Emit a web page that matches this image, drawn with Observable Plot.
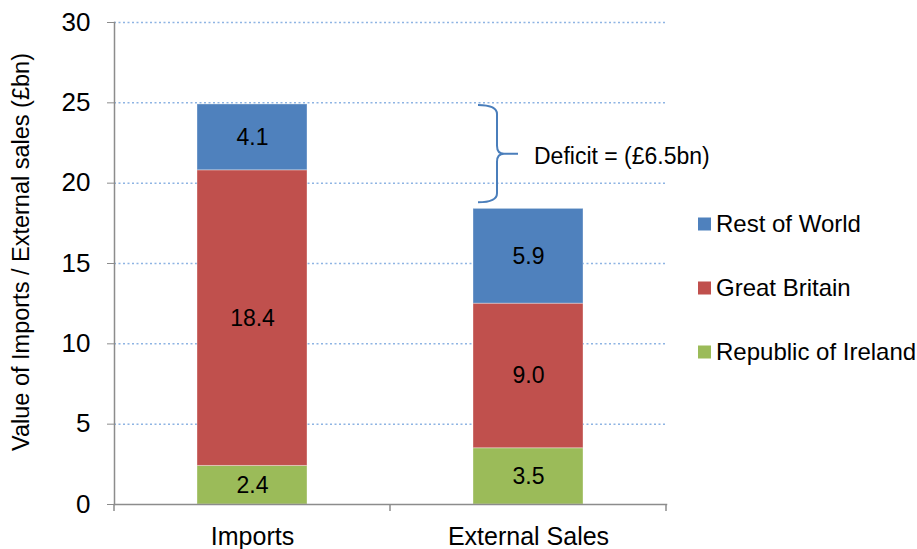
<!DOCTYPE html>
<html>
<head>
<meta charset="utf-8">
<script src="https://cdn.jsdelivr.net/npm/d3@7"></script>
<script src="https://cdn.jsdelivr.net/npm/@observablehq/plot@0.6"></script>
<style>
  html, body { margin: 0; padding: 0; background: #ffffff; }
  #chart svg { display: block; }
</style>
</head>
<body>
<div id="chart"></div>
<script>
const categories = ["Imports", "External Sales"];
const seriesNames = ["Republic of Ireland", "Great Britain", "Rest of World"];
const importsValues = [2.4, 18.4, 4.1];
const externalValues = [3.5, 9.0, 5.9];
const seriesColors = ["#9bbb59", "#c0504d", "#4f81bd"];
const yTicks = [0, 5, 10, 15, 20, 25, 30];
const yLabel = "Value of Imports / External sales (£bn)";

const valuesByCategory = [importsValues, externalValues];
const data = [];
categories.forEach((c, ci) => {
  seriesNames.forEach((s, si) => {
    data.push({cat: c, series: s, value: valuesByCategory[ci][si]});
  });
});

const FONT = "'Liberation Sans', Arial, Helvetica, sans-serif";
const W = 917, H = 549;
const mL = 114, mR = 251, mT = 22, mB = 45;

const plot = Plot.plot({
  width: W,
  height: H,
  marginLeft: mL,
  marginRight: mR,
  marginTop: mT,
  marginBottom: mB,
  style: {fontFamily: FONT, background: "#ffffff", color: "#000000"},
  x: {domain: categories, paddingInner: 0.6, paddingOuter: 0.3, label: null},
  y: {domain: [0, 30], label: null},
  color: {domain: seriesNames, range: seriesColors},
  marks: [
    Plot.gridY(yTicks.filter(d => d > 0), {stroke: "#8eb4e3", strokeOpacity: 1, strokeWidth: 1.5, strokeDasharray: "2,2.5"}),
    Plot.barY(data, {x: "cat", y: "value", fill: "series", stroke: "#ffffff", strokeOpacity: 0.35, strokeWidth: 1}),
    Plot.text(data, Plot.stackY({x: "cat", y: "value", text: d => d.value.toFixed(1), fontSize: 23, fill: "#000000"})),
    Plot.frame({anchor: "left", stroke: "#8c8c8c", strokeWidth: 1.5}),
    Plot.frame({anchor: "bottom", stroke: "#8c8c8c", strokeWidth: 1.5}),
    Plot.axisY({ticks: yTicks, tickSize: 7, tickPadding: 17, fontSize: 26, stroke: "#8c8c8c", fill: "#000000", label: null, tickFormat: d => String(d)}),
    Plot.axisX({tickSize: 0, tickPadding: 23, fontSize: 25, fill: "#000000", label: null})
  ]
});

document.getElementById("chart").appendChild(plot);

const svg = d3.select(plot);
const xs = plot.scale("x");
const ys = plot.scale("y");
const y = v => ys.apply(v);
const [r0, r1] = xs.range;
const step = (r1 - r0) / categories.length;
const y0 = y(0);

// category boundary ticks on the x axis
const bounds = d3.range(categories.length + 1).map(i => r0 + i * step);
svg.append("g")
  .selectAll("line").data(bounds).join("line")
  .attr("x1", d => d).attr("x2", d => d)
  .attr("y1", y0).attr("y2", y0 + 7)
  .attr("stroke", "#8c8c8c").attr("stroke-width", 1.5);

// y axis title
svg.append("text")
  .attr("transform", `translate(29,${(y(30) + y0) / 2 - 11}) rotate(-90)`)
  .attr("text-anchor", "middle")
  .attr("font-family", FONT)
  .attr("font-size", 23.5)
  .attr("fill", "#000000")
  .text(yLabel);

// deficit brace
const impTotal = d3.sum(importsValues);
const extTotal = d3.sum(externalValues);
const yTop = y(impTotal) + 1, yBot = y(extTotal) - 6, mid = (yTop + yBot) / 2;
const bx = xs.apply("External Sales");
const path = [
  `M${bx + 5},${yTop}`,
  `Q${bx + 24},${yTop} ${bx + 24},${yTop + 9}`,
  `L${bx + 24},${mid - 8}`,
  `Q${bx + 24},${mid} ${bx + 31},${mid}`,
  `L${bx + 45},${mid}`,
  `M${bx + 31},${mid}`,
  `Q${bx + 24},${mid} ${bx + 24},${mid + 8}`,
  `L${bx + 24},${yBot - 9}`,
  `Q${bx + 24},${yBot} ${bx + 5},${yBot}`
].join(" ");
svg.append("path").attr("d", path).attr("fill", "none")
  .attr("stroke", "#4a7ebb").attr("stroke-width", 2);
svg.append("text")
  .attr("x", bx + 61).attr("y", mid + 2)
  .attr("dy", "0.35em")
  .attr("text-anchor", "start")
  .attr("font-family", FONT).attr("font-size", 23).attr("fill", "#000000")
  .text(`Deficit = (£${(impTotal - extTotal).toFixed(1)}bn)`);

// legend (top to bottom: reverse of stacking order)
const legendItems = seriesNames.map((s, i) => ({name: s, color: seriesColors[i]})).reverse();
const lg = svg.append("g").attr("transform", "translate(698,0)");
legendItems.forEach((it, i) => {
  const cy = 224 + i * 64;
  lg.append("rect").attr("x", 0).attr("y", cy - 6.5).attr("width", 13).attr("height", 13).attr("fill", it.color);
  lg.append("text").attr("x", 18).attr("y", cy).attr("dy", "0.35em")
    .attr("text-anchor", "start")
    .attr("font-family", FONT).attr("font-size", 24).attr("fill", "#000000")
    .text(it.name);
});
</script>
</body>
</html>
